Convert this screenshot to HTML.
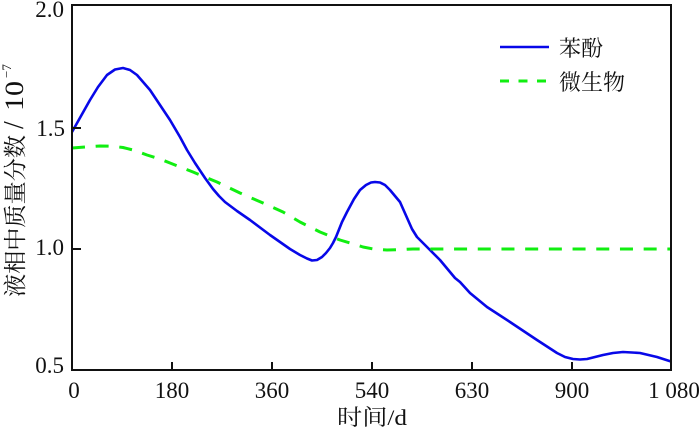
<!DOCTYPE html>
<html>
<head>
<meta charset="utf-8">
<style>
html,body{margin:0;padding:0;background:#fff;}
svg{display:block;}
text{font-family:"Liberation Serif","Noto Serif CJK SC",serif;fill:#111;}
.cjk{font-family:"Liberation Serif","Noto Serif CJK SC","Noto Sans CJK SC",serif;}
</style>
</head>
<body>
<svg width="700" height="430" viewBox="0 0 700 430" xmlns="http://www.w3.org/2000/svg">
<defs>
<clipPath id="pc"><rect x="72" y="5" width="599" height="365"/></clipPath>
</defs>
<rect width="700" height="430" fill="#fff"/>

<!-- series -->
<g clip-path="url(#pc)" fill="none" stroke-linejoin="round" stroke-linecap="butt">
<polyline stroke="#0808e8" stroke-width="2.6" points="72,132 81,116 90,100 98,87 107,75 115,69.5 123,68 130,70 137,75 150,90 160,105 170,120 180,137 187,150 195,163 203,175 205,178 213,189 219,196 225,202 237,211 250,220 270,235 290,249 300,255 307,258.5 312,260.5 317,260 322,257 326,253 330,248 333,243 336,237 342,222 347,212 354,199 360,190 366,185 371,182.5 375,182 380,182.5 385,185 390,190 395,196 400,202 404,211 408,220 412,229 417,237 427,247 440,260 455,278 460,282 470,293 487,307 510,322 537,340 557,353 565,357 573,359 580,359.5 587,359 595,357 603,355 613,353 623,352 632,352.5 640,353 657,357 671,361.5"/>
<polyline stroke="#11ee11" stroke-width="3" stroke-dasharray="13 10.7" points="72,148 85,147 100,146 112,146.2 123,147.5 135,150.5 147,155 160,159 170,163 193,172 217,182 240,193 263,203 283,212 300,222 320,232 340,240 355,244.5 363,247 375,249.3 387,250 400,249.6 413,249 440,249 671,249"/>
</g>

<!-- frame -->
<rect x="72" y="5" width="599" height="365" fill="none" stroke="#111" stroke-width="2"/>

<!-- ticks -->
<g stroke="#111" stroke-width="2">
<line x1="72" y1="128" x2="81" y2="128"/>
<line x1="72" y1="249" x2="81" y2="249"/>
<line x1="172" y1="370" x2="172" y2="362"/>
<line x1="272" y1="370" x2="272" y2="362"/>
<line x1="372" y1="370" x2="372" y2="362"/>
<line x1="472" y1="370" x2="472" y2="362"/>
<line x1="572" y1="370" x2="572" y2="362"/>
</g>

<!-- y tick labels -->
<g font-size="23" text-anchor="end">
<text x="64" y="17">2.0</text>
<text x="65" y="136">1.5</text>
<text x="64" y="255">1.0</text>
<text x="64" y="373">0.5</text>
</g>

<!-- x tick labels -->
<g font-size="23" text-anchor="middle">
<text x="74" y="398">0</text>
<text x="172" y="398">180</text>
<text x="272" y="398">360</text>
<text x="372" y="398">540</text>
<text x="472" y="398">630</text>
<text x="572" y="398">900</text>
<text x="674" y="398">1 080</text>
</g>

<!-- x axis title -->
<text class="cjk" x="337" y="425" font-size="22" textLength="70" lengthAdjust="spacingAndGlyphs">时间/d</text>

<!-- y axis title -->
<g transform="translate(23,297) rotate(-90)">
<text class="cjk" x="0" y="0" font-size="23" textLength="162" lengthAdjust="spacingAndGlyphs">液相中质量分数</text>
<text x="168" y="0" font-size="28">/</text>
<text x="186" y="0" font-size="26" textLength="30" lengthAdjust="spacingAndGlyphs">10</text>
<text x="219" y="-12" font-size="13">−7</text>
</g>

<!-- legend -->
<line x1="500" y1="47" x2="549" y2="47" stroke="#0808e8" stroke-width="2.6"/>
<line x1="500" y1="81" x2="549" y2="81" stroke="#11ee11" stroke-width="3" stroke-dasharray="9 9.5"/>
<text class="cjk" x="559" y="56" font-size="22">苯酚</text>
<text class="cjk" x="559" y="90" font-size="22">微生物</text>
</svg>
</body>
</html>
